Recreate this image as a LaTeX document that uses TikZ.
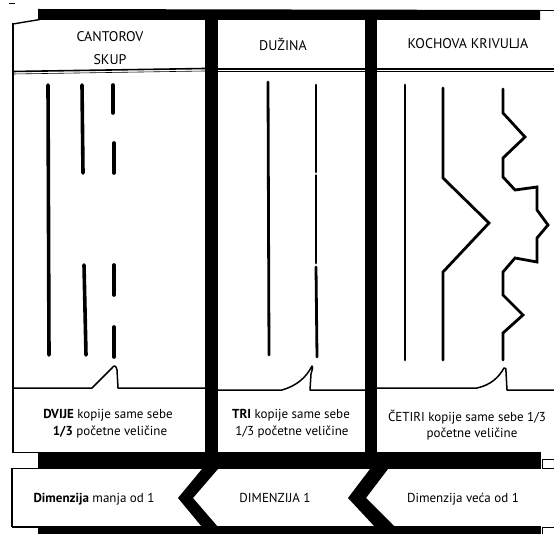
\documentclass[tikz,border=0pt]{standalone}
\usepackage{fontspec}
\setmainfont{PT Sans}
\begin{document}
\begin{tikzpicture}[x=1pt,y=-1pt,
  frame/.style={line width=1.4pt},
  thinframe/.style={line width=0.7pt},
  bubble/.style={line width=1.5pt, line join=round},
  cantorline/.style={line width=3.6pt, line cap=round},
  segline/.style={line width=2.8pt, line cap=round},
  kochline/.style={line width=2.8pt, line cap=round, line join=miter},
  hdr/.style={font=\fontsize{14}{16}\selectfont, inner sep=0pt, anchor=center},
  lbl/.style={font=\fontsize{13}{15}\selectfont, inner sep=0pt, anchor=center},
  dim/.style={font=\fontsize{13}{15}\selectfont, inner sep=0pt, anchor=center}]
\useasboundingbox (0,0) rectangle (554,534);
\fill[white] (0,0) rectangle (554,534);

% small mark top-left
\draw[line width=0.8pt] (9,3.5) -- (15,3.5);

% top black bar
\fill (38,9) -- (540,10) -- (540,20) -- (38,20) -- cycle;
\draw[thinframe] (540,10.5) -- (554,10.5);
% left header top edge and outer border
\draw[frame] (13,24) -- (40,19.5);
\draw[frame] (13,23.5) -- (13,453);
\draw[frame] (13,452.5) -- (40,452.5);

% thick vertical dividers
\fill (205,14) rectangle (217.5,469);
\fill (365,14) rectangle (377,469);

% header bottom double line
\draw[line width=1.6pt] (13,71.5) -- (205,68.5);
\draw[line width=0.6pt] (13,74) -- (205,71);
\draw[line width=1.6pt] (217,69) -- (554,69);
\draw[line width=0.6pt] (217,71.5) -- (554,71.5);

% speech-bubble lines
\draw[bubble] (13,388) -- (92,388) -- (112,368) .. controls (114,365) and (116,365) .. (117,370) -- (118,388) -- (205,388);
\draw[bubble] (217,390) -- (282,390) .. controls (296,386) and (306,378) .. (312,366) .. controls (313,367) .. (311,374) -- (310,390) -- (365,390);
\draw[bubble] (377,388) -- (477,388) .. controls (491,385) and (499,377) .. (504,368) .. controls (506,368) .. (506,372) -- (507,390) -- (554,390);

% bottom black bars
\fill (38,452) rectangle (541,469);
\fill (38,526) rectangle (541,534);
\draw[thinframe] (542,459) rectangle (556,468);
\draw[thinframe] (542,527) rectangle (556,534);
% bottom row left edge
\draw[frame] (12,468) -- (12,527);
\draw[frame] (12,527) -- (40,527);
\draw[frame] (12,468.5) -- (40,468.5);

% chevrons
\fill (202,469) -- (218,469) -- (193,498) -- (218,527) -- (202,527) -- (178,498) -- cycle;
\fill (370,469) -- (388,469) -- (366,498) -- (395,527) -- (375,527) -- (348,498) -- cycle;

% Cantor set
\draw[cantorline] (48,85) -- (49,355);
\draw[cantorline] (82,85) -- (83,173);
\draw[cantorline] (84,265) -- (86,355);
\draw[cantorline] (113,85) -- (113,113);
\draw[cantorline] (114,143) -- (114,173);
\draw[cantorline] (114,265) -- (114,295);
\draw[cantorline] (114,327) -- (114,357);

% line segment
\draw[segline] (268,82) -- (269,355);
\draw[segline] (316,85) -- (316,172);
\draw[segline] (316,175.5) -- (316,263);
\draw[segline] (316,267) -- (317,357);

% Koch curve
\draw[kochline] (405,85) -- (405,360);
\draw[kochline] (443,88) -- (443,178) -- (489,223) -- (443,272) -- (443,360);
\draw[kochline] (503,89) -- (503,113) -- (525,137) -- (503,158) -- (503,177) -- (515,190) -- (537,187) -- (537,210) -- (548,225) -- (537,238) -- (537,262) -- (515,258) -- (503,272) -- (503,295) -- (523,315) -- (503,333) -- (503,360);

% headers
\node[hdr] (h1a) at (110,37) {CANTOROV};
\node[hdr] (h1b) at (110,60) {SKUP};
\node[hdr] (h2) at (283,44) {DUŽINA};
\node[hdr] (h3) at (468,44) {KOCHOVA KRIVULJA};

% descriptions
\node[lbl] (d1a) at (108,415) {\textbf{DVIJE} kopije same sebe};
\node[lbl] (d1b) at (110,432) {\textbf{1/3} početne veličine};
\node[lbl] (d2a) at (291,415) {\textbf{TRI} kopije same sebe};
\node[lbl] (d2b) at (292,432) {1/3 početne veličine};
\node[lbl] (d3a) at (467,417) {ČETIRI kopije same sebe 1/3};
\node[lbl] (d3b) at (472,434) {početne veličine};

% dimensions
\node[dim] (m1) at (94,499) {\textbf{Dimenzija} manja od 1};
\node[dim] (m2) at (275,498) {DIMENZIJA 1};
\node[dim] (m3) at (463,499) {Dimenzija veća od 1};
\end{tikzpicture}
\end{document}
